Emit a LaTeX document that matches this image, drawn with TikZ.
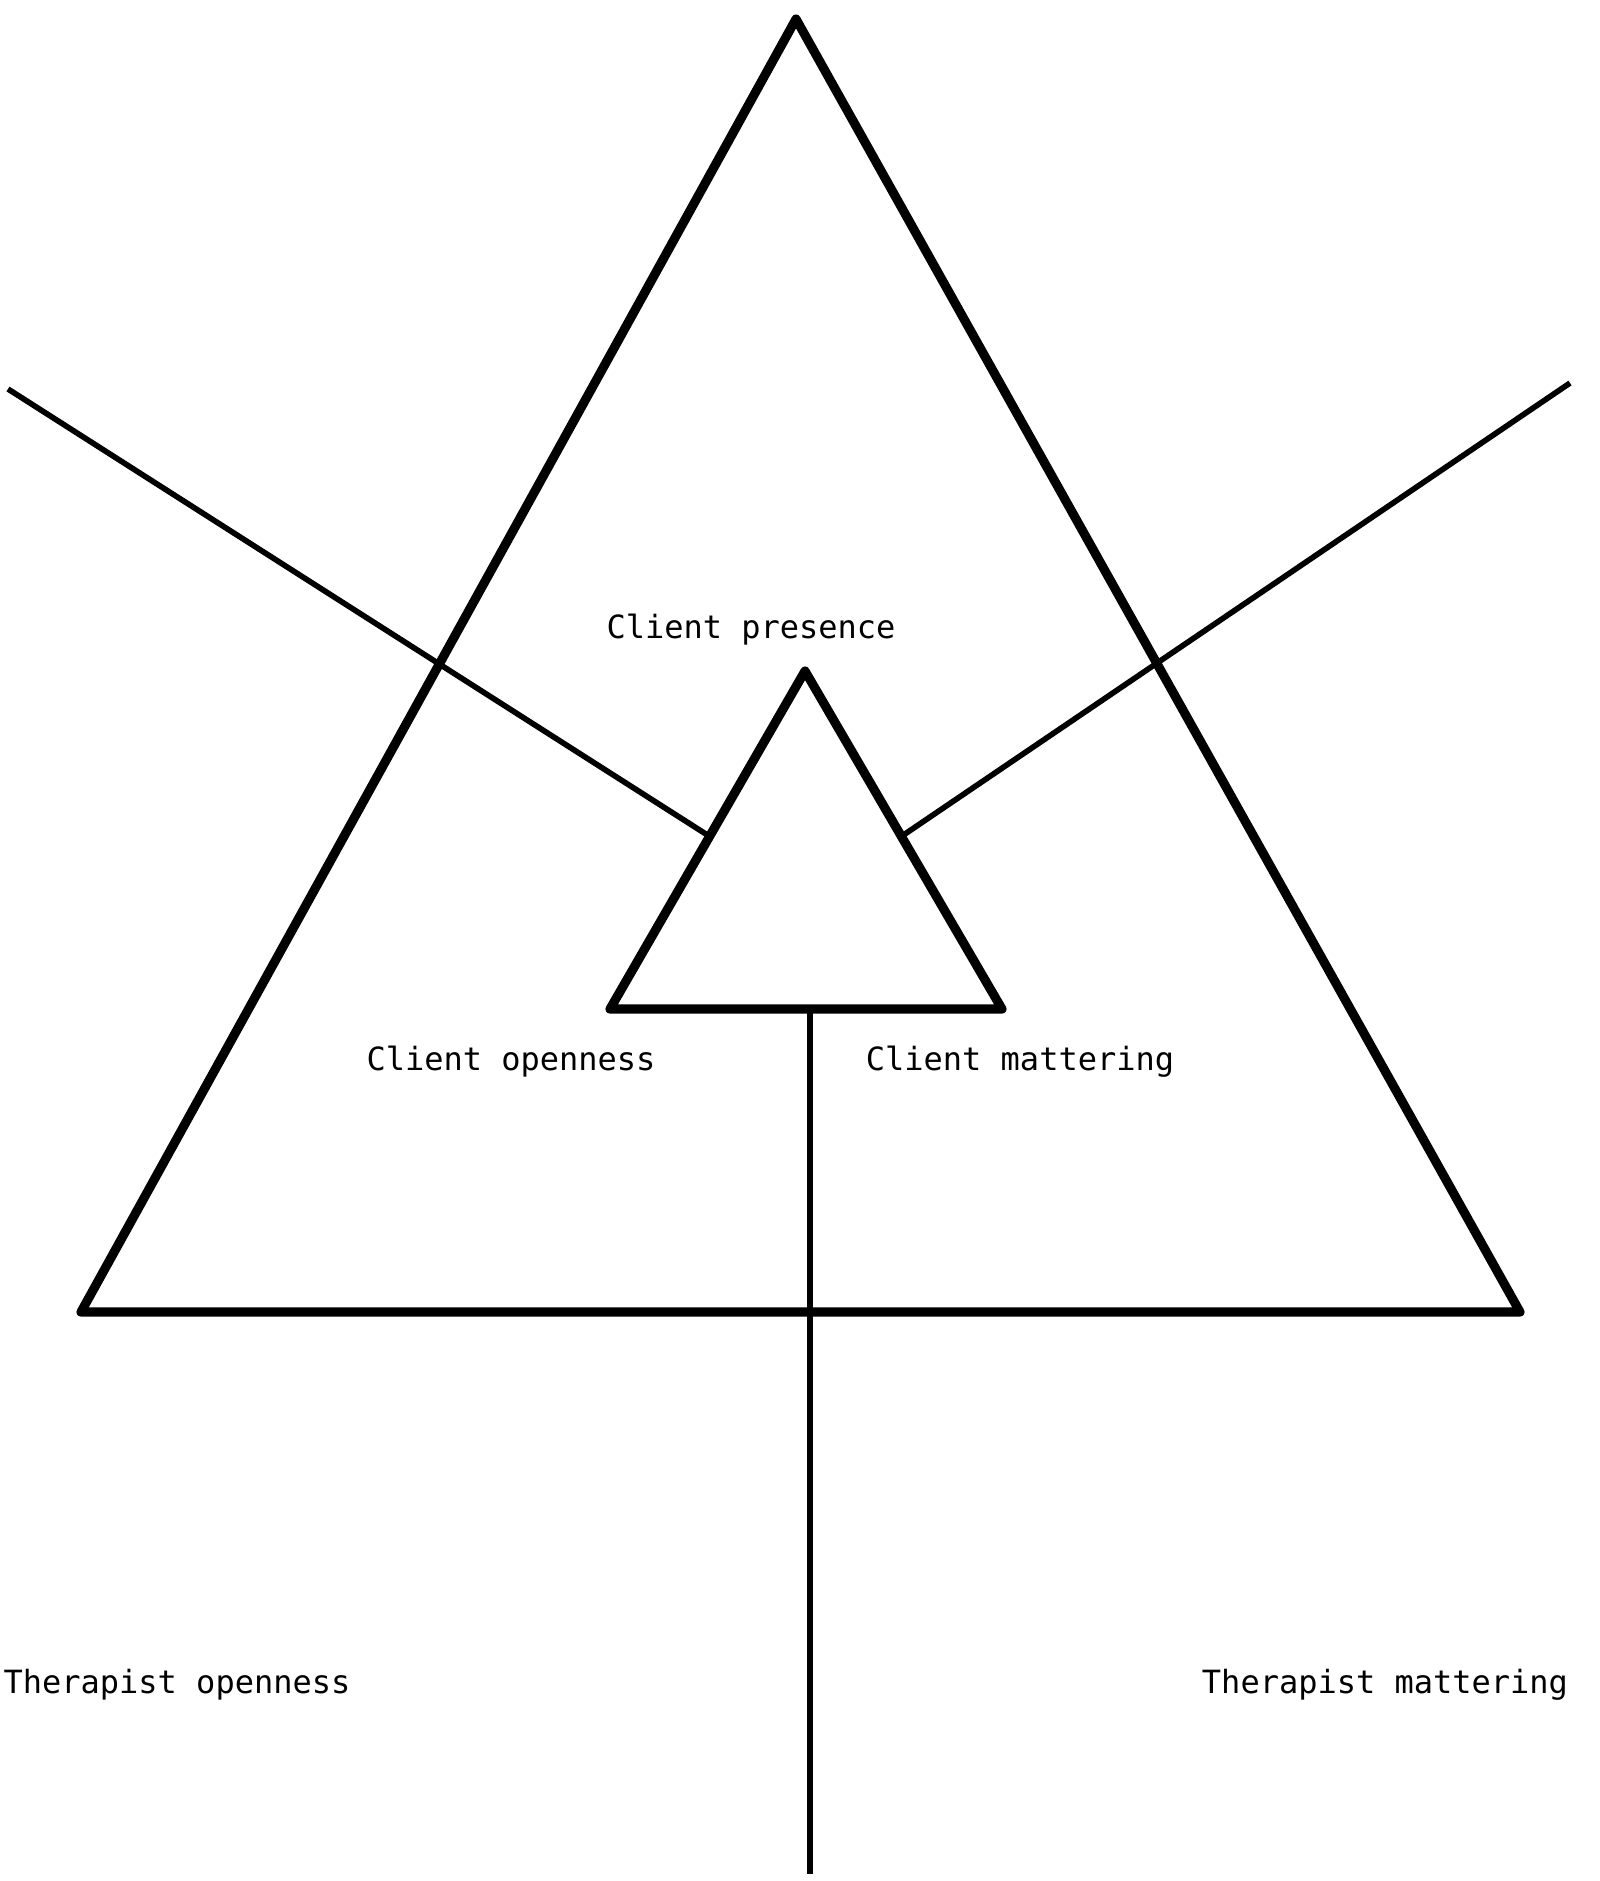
\documentclass[tikz,border=0pt]{standalone}
\usepackage{fontspec}
\setmonofont{DejaVu Sans Mono}
\begin{document}
\begin{tikzpicture}[x=0.01cm,y=-0.01cm,
  heavy/.style={line width=2.6pt,line join=round,line cap=round},
  light/.style={line width=1.6pt},
  lbl/.style={font=\ttfamily\fontsize{9.1}{10}\selectfont,anchor=base,inner sep=0pt}]
\useasboundingbox (0,0) rectangle (1599,1881);
% corners
\coordinate (otop) at (796,19);
\coordinate (oleft) at (81,1312);
\coordinate (oright) at (1520,1312);
\coordinate (itop) at (805,671);
\coordinate (ileft) at (610,1009);
\coordinate (iright) at (1002,1009);
% ends of the thin lines
\coordinate (lfar) at (8,389);
\coordinate (lnear) at (709,836);
\coordinate (rfar) at (1570,383);
\coordinate (rnear) at (902,836);
\coordinate (vtop) at (810,1009);
\coordinate (vbot) at (810,1874);
% thin lines
\draw[light] (lfar) -- (lnear);
\draw[light] (rfar) -- (rnear);
\draw[light] (vtop) -- (vbot);
% triangles
\draw[heavy] (otop) -- (oleft) -- (oright) -- cycle;
\draw[heavy] (itop) -- (ileft) -- (iright) -- cycle;
% texts
\node[lbl] (cpres) at (751,638) {Client presence};
\node[lbl] (copen) at (511,1070) {Client openness};
\node[lbl] (cmatt) at (1020,1070) {Client mattering};
\node[lbl] (topen) at (177,1693) {Therapist openness};
\node[lbl] (tmatt) at (1385,1693) {Therapist mattering};
\end{tikzpicture}
\end{document}
